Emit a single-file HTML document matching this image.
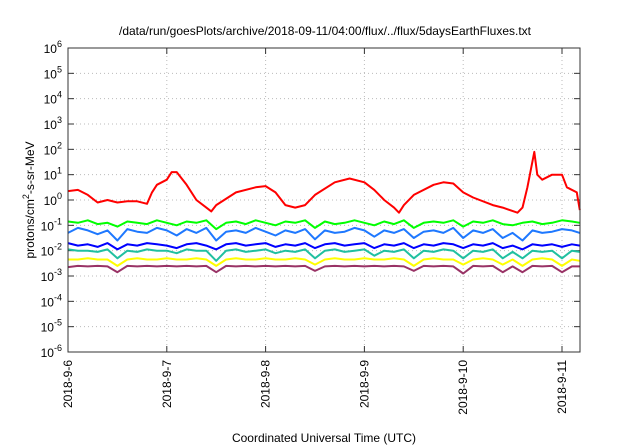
<!DOCTYPE html>
<html><head><meta charset="utf-8"><style>
body{margin:0;background:#fff}
svg{display:block;font-family:"Liberation Sans",sans-serif}
</style></head><body>
<svg id="chart" width="640" height="448">
<text x="325" y="35" text-anchor="middle" font-size="12">/data/run/goesPlots/archive/2018-09-11/04:00/flux/../flux/5daysEarthFluxes.txt</text>
<g id="grid"></g><g id="yticks"></g><g id="xticks"></g><g id="series"></g>
<rect x="68" y="48" width="512" height="304" fill="none" stroke="#333" stroke-width="1"/>
<text transform="translate(34,200) rotate(-90)" text-anchor="middle" font-size="12">protons/cm<tspan dy="-5" font-size="9">2</tspan><tspan dy="5">-s-sr-MeV</tspan></text>
<text x="324" y="442" text-anchor="middle" font-size="12">Coordinated Universal Time (UTC)</text>
</svg>
<script>
const xLabels=["2018-9-6","2018-9-7","2018-9-8","2018-9-9","2018-9-10","2018-9-11"];
const yExps=[-6,-5,-4,-3,-2,-1,0,1,2,3,4,5,6];
const redT=[0,0.1,0.2,0.3,0.4,0.5,0.6,0.7,0.8,0.85,0.9,1.0,1.05,1.1,1.2,1.3,1.4,1.45,1.5,1.7,1.9,2.0,2.1,2.2,2.3,2.4,2.5,2.7,2.85,3.0,3.1,3.2,3.3,3.35,3.4,3.5,3.7,3.8,3.9,4.0,4.1,4.3,4.4,4.55,4.6,4.65,4.72,4.75,4.8,4.9,5.0,5.05,5.15,5.18];
const redV=[0.35,0.4,0.2,-0.1,0.0,-0.1,-0.05,-0.05,-0.15,0.3,0.6,0.8,1.1,1.1,0.6,0.0,-0.3,-0.45,-0.2,0.3,0.5,0.55,0.3,-0.2,-0.3,-0.2,0.2,0.7,0.85,0.7,0.4,0.0,-0.3,-0.5,-0.2,0.2,0.6,0.7,0.65,0.3,0.1,-0.2,-0.3,-0.5,-0.3,0.5,1.9,1.0,0.8,1.0,1.0,0.5,0.3,-0.4];
const stepT=[0,0.1,0.2,0.3,0.4,0.5,0.6,0.7,0.8,0.9,1.0,1.1,1.2,1.3,1.4,1.5,1.6,1.7,1.8,1.9,2.0,2.1,2.2,2.3,2.4,2.5,2.6,2.7,2.8,2.9,3.0,3.1,3.2,3.3,3.4,3.5,3.6,3.7,3.8,3.9,4.0,4.1,4.2,4.3,4.4,4.5,4.6,4.7,4.8,4.9,5.0,5.1,5.18];
const greenV=[-0.85,-0.9,-0.8,-0.95,-0.9,-1.05,-0.85,-0.9,-0.95,-0.8,-0.9,-1.0,-0.85,-0.9,-0.8,-1.15,-0.9,-0.85,-0.95,-0.8,-0.9,-1.0,-0.85,-0.9,-0.8,-1.1,-0.85,-0.95,-0.9,-0.8,-0.9,-1.0,-0.85,-0.95,-0.8,-1.1,-0.9,-0.85,-0.9,-0.8,-1.05,-0.85,-0.9,-0.8,-0.95,-1.0,-0.9,-0.85,-0.95,-0.9,-0.8,-0.85,-0.9];
const lblueV=[-1.3,-1.1,-1.2,-1.35,-1.2,-1.6,-1.15,-1.25,-1.3,-1.1,-1.2,-1.4,-1.15,-1.3,-1.1,-1.6,-1.25,-1.2,-1.3,-1.1,-1.25,-1.4,-1.2,-1.3,-1.15,-1.55,-1.2,-1.3,-1.25,-1.1,-1.2,-1.45,-1.2,-1.3,-1.15,-1.5,-1.25,-1.2,-1.3,-1.1,-1.5,-1.2,-1.3,-1.15,-1.5,-1.3,-1.6,-1.2,-1.3,-1.25,-1.15,-1.2,-1.3];
const blueV=[-1.7,-1.8,-1.75,-1.85,-1.7,-1.95,-1.75,-1.8,-1.7,-1.75,-1.8,-1.9,-1.75,-1.7,-1.8,-1.95,-1.75,-1.7,-1.8,-1.75,-1.7,-1.85,-1.75,-1.8,-1.7,-1.9,-1.75,-1.7,-1.8,-1.75,-1.7,-1.9,-1.75,-1.8,-1.7,-1.9,-1.75,-1.8,-1.7,-1.75,-1.9,-1.75,-1.8,-1.7,-1.9,-1.8,-1.95,-1.75,-1.8,-1.75,-1.85,-1.75,-1.8];
const tealV=[-1.95,-2.0,-2.0,-2.05,-1.95,-2.3,-2.0,-2.05,-1.95,-2.0,-2.0,-2.1,-1.95,-2.0,-2.0,-2.4,-2.0,-1.95,-2.05,-2.0,-1.95,-2.1,-2.0,-2.05,-1.95,-2.3,-2.0,-1.95,-2.05,-2.0,-1.95,-2.2,-2.0,-2.05,-1.95,-2.3,-2.0,-2.05,-1.95,-2.0,-2.3,-2.0,-2.05,-1.95,-2.3,-2.05,-2.3,-2.0,-2.05,-2.0,-2.3,-2.0,-2.05];
const yellowV=[-2.35,-2.35,-2.3,-2.35,-2.35,-2.6,-2.35,-2.3,-2.35,-2.35,-2.3,-2.35,-2.35,-2.3,-2.35,-2.6,-2.35,-2.3,-2.35,-2.35,-2.3,-2.35,-2.35,-2.3,-2.35,-2.55,-2.35,-2.3,-2.35,-2.35,-2.3,-2.35,-2.35,-2.3,-2.35,-2.6,-2.35,-2.3,-2.35,-2.35,-2.55,-2.35,-2.3,-2.35,-2.55,-2.35,-2.6,-2.35,-2.3,-2.35,-2.6,-2.35,-2.4];
const purpleV=[-2.65,-2.6,-2.62,-2.6,-2.62,-2.85,-2.6,-2.62,-2.6,-2.62,-2.6,-2.62,-2.6,-2.62,-2.6,-2.85,-2.6,-2.62,-2.6,-2.62,-2.6,-2.62,-2.6,-2.62,-2.6,-2.8,-2.62,-2.6,-2.62,-2.6,-2.62,-2.6,-2.62,-2.6,-2.62,-2.8,-2.6,-2.62,-2.6,-2.62,-2.9,-2.6,-2.62,-2.6,-2.85,-2.62,-2.85,-2.6,-2.62,-2.6,-2.85,-2.62,-2.62];
const L=68,R=580,T=48,B=352,NS="http://www.w3.org/2000/svg";
const xS=d=>L+d*98.8;
const yS=e=>B-(e+6)*(B-T)/12;
function mk(tag,attrs,parent){const el=document.createElementNS(NS,tag);for(const k in attrs)el.setAttribute(k,attrs[k]);parent.appendChild(el);return el;}
const grid=document.getElementById('grid'),yt=document.getElementById('yticks'),xt=document.getElementById('xticks'),sg=document.getElementById('series');
yExps.forEach(e=>{const y=yS(e);
 const g=mk('line',{x1:L,x2:R,y1:y,y2:y,stroke:'#bbb','stroke-dasharray':'1,3'},grid);
 
 
 mk('line',{x1:L,x2:L+6,y1:y,y2:y,stroke:'#333'},yt);mk('line',{x1:R-6,x2:R,y1:y,y2:y,stroke:'#333'},yt);
 const t=mk('text',{x:L-6,y:y+5,'text-anchor':'end','font-size':'12'},yt);
 
 
 t.textContent='10';const s=mk('tspan',{dy:-6,'font-size':'9'},t);s.textContent=String(e);});
xLabels.forEach((lab,i)=>{const x=xS(i);
 const g=mk('line',{x1:x,x2:x,y1:T,y2:B,stroke:'#bbb','stroke-dasharray':'1,3'},grid);
 
 
 mk('line',{x1:x,x2:x,y1:B-6,y2:B,stroke:'#333'},xt);mk('line',{x1:x,x2:x,y1:T,y2:T+6,stroke:'#333'},xt);
 const t=mk('text',{transform:`translate(${x+4},360) rotate(-90)`,'text-anchor':'end','font-size':'12'},xt);
 
 
 t.textContent=lab;});
function line(ts,vs,color,name){const d=ts.map((t,i)=>(i?'L':'M')+xS(t).toFixed(1)+','+yS(vs[i]).toFixed(1)).join('');
 const p=mk('path',{d:d,fill:'none',stroke:color,'stroke-width':'2','stroke-linejoin':'round'},sg);
 
 }
line(stepT,purpleV,'#993366','series-purple');
line(stepT,yellowV,'#ffff00','series-yellow');
line(stepT,tealV,'#20c0a0','series-teal');
line(stepT,blueV,'#0000ff','series-blue');
line(stepT,lblueV,'#1e78ff','series-lightblue');
line(stepT,greenV,'#00ff00','series-green');
line(redT,redV,'#ff0000','series-red');
</script>
</body></html>
